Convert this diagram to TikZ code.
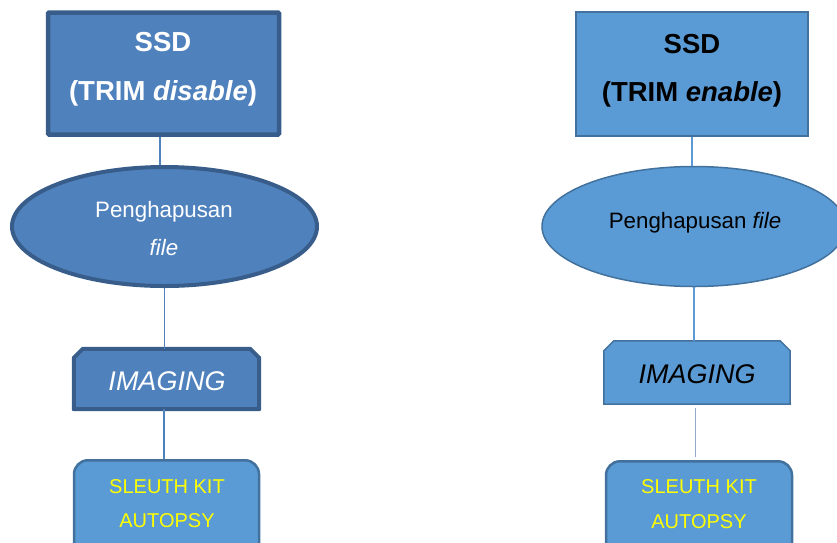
\documentclass[tikz,border=0pt]{standalone}
\usepackage{fontspec}
\setmainfont{Liberation Sans}
\usetikzlibrary{shapes.geometric,calc}
\definecolor{darkfill}{HTML}{4F81BD}
\definecolor{darkline}{HTML}{385D8A}
\definecolor{lightfill}{HTML}{5B9BD5}
\definecolor{lightline}{HTML}{41719C}
\definecolor{ylw}{HTML}{FFFF00}
\definecolor{thinconn}{HTML}{8FAACC}
\begin{document}
\begin{tikzpicture}[x=1pt,y=-1pt,
  darkbox/.style={draw=darkline,fill=darkfill,line width=4.5pt,inner sep=0pt,rectangle,rounded corners=1pt},
  lightbox/.style={draw=lightline,fill=lightfill,line width=1.5pt,inner sep=0pt,rectangle},
  darkell/.style={draw=darkline,fill=darkfill,line width=4pt,inner sep=0pt,ellipse},
  lightell/.style={draw=lightline,fill=lightfill,line width=1.5pt,inner sep=0pt,ellipse},
  imgframe/.style={inner sep=0pt,rectangle},
  darkshape/.style={draw=darkline,fill=darkfill,line width=4pt,line join=round},
  lightshape/.style={draw=lightline,fill=lightfill,line width=1.5pt},
  skbox/.style={draw=lightline,fill=lightfill,line width=2.5pt,inner sep=0pt,rectangle,rounded corners=14pt,anchor=north},
  txtbase/.style={anchor=base,inner sep=0pt},
  boldtxt/.style={txtbase,font=\fontsize{27.5}{31}\selectfont\bfseries},
  regtxt/.style={txtbase,font=\fontsize{22.3}{26}\selectfont},
  imgtxt/.style={txtbase,font=\fontsize{27}{31}\selectfont\itshape},
  sktxt/.style={txtbase,font=\fontsize{20}{24}\selectfont,text=ylw},
  connL/.style={draw=darkfill,line width=1.8pt},
  connR/.style={draw=lightfill,line width=1.5pt},
  connT/.style={draw=thinconn,line width=0.8pt}
]
\useasboundingbox (0,0) rectangle (837,542);
\clip (0,0) rectangle (837,542);

% left column
\node[darkbox,minimum width=231pt,minimum height=122pt] (ssdL) at (163.5,73.5) {};
\node[darkell,minimum width=305pt,minimum height=119pt] (ellL) at (164.5,226.5) {};
\node[imgframe,minimum width=185pt,minimum height=60pt] (imgL) at (166.5,379) {};
\draw[darkshape] (imgL.south west) -- ($(imgL.north west)+(0,9)$) -- ($(imgL.north west)+(9,0)$)
  -- ($(imgL.north east)+(-9,0)$) -- ($(imgL.north east)+(0,9)$) -- (imgL.south east) -- cycle;
\node[skbox,minimum width=185pt,minimum height=110pt] (skL) at (166.5,459) {};

\draw[connL] ([xshift=-3.5pt]ssdL.south) -- ([xshift=-3.5pt]ssdL.south |- ellL.north);
\draw[connL] (ellL.south) -- (ellL.south |- imgL.north);
\draw[connL] ([xshift=-2.5pt]imgL.south) -- ([xshift=-2.5pt]imgL.south |- skL.north);

\node[boldtxt,text=white] (tL1) at (163,51) {SSD};
\node[boldtxt,text=white] (tL2) at (163,100) {(TRIM \textit{disable})};
\node[regtxt,text=white] (tL3) at (164,217) {Penghapusan};
\node[regtxt,text=white] (tL4) at (164,255) {\textit{file}};
\node[imgtxt,text=white] (tL5) at (167,390) {IMAGING};
\node[sktxt] (tL6) at (167,493) {SLEUTH KIT};
\node[sktxt] (tL7) at (167,527) {AUTOPSY};

% right column
\node[lightbox,minimum width=232pt,minimum height=124pt] (ssdR) at (692,74) {};
\node[lightell,minimum width=304pt,minimum height=120pt] (ellR) at (694,226.5) {};
\node[imgframe,minimum width=186pt,minimum height=63pt] (imgR) at (697,372.5) {};
\draw[lightshape] (imgR.south west) -- ($(imgR.north west)+(0,10)$) -- ($(imgR.north west)+(10,0)$)
  -- ($(imgR.north east)+(-10,0)$) -- ($(imgR.north east)+(0,10)$) -- (imgR.south east) -- cycle;
\node[skbox,minimum width=186pt,minimum height=110pt] (skR) at (699,460) {};

\draw[connR] (ssdR.south) -- (ssdR.south |- ellR.north);
\draw[connR] (ellR.south) -- (ellR.south |- imgR.north);
\draw[connT] ($(imgR.south)+(-2,4)$) -- ($(skR.north)+(-4,-3)$);

\node[boldtxt,text=black] (tR1) at (692,53) {SSD};
\node[boldtxt,text=black] (tR2) at (692,101) {(TRIM \textit{enable})};
\node[regtxt,text=black] (tR3) at (695,228) {Penghapusan \textit{file}};
\node[imgtxt,text=black] (tR5) at (697,383) {IMAGING};
\node[sktxt] (tR6) at (699,493) {SLEUTH KIT};
\node[sktxt] (tR7) at (699,528) {AUTOPSY};
\end{tikzpicture}
\end{document}
